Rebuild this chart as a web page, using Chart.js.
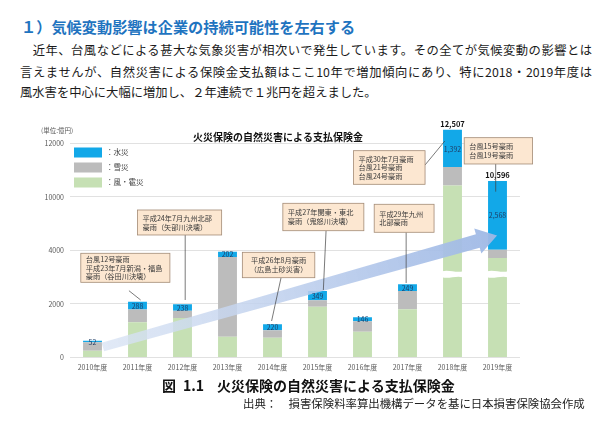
<!DOCTYPE html>
<html lang="ja">
<head>
<meta charset="utf-8">
<title>火災保険の自然災害による支払保険金</title>
<script src="https://cdn.jsdelivr.net/npm/chart.js@4.4.1/dist/chart.umd.min.js"></script>
<style>
  html, body { margin: 0; padding: 0; background: #fff; }
  body {
    width: 602px; height: 431px; position: relative; overflow: hidden;
    font-family: 'Noto Sans CJK JP', 'Noto Sans', sans-serif; color: #1a1a1a;
  }
  .abs { position: absolute; white-space: nowrap; }
  #heading { left: 21px; top: 15px; font-size: 15.2px; line-height: 22px; font-weight: bold; color: #1f74c0; }
  .para { left: 20px; width: 572px; font-size: 12.3px; line-height: 20px; }
  .just { text-align: justify; text-align-last: justify; }
  #chartBox { left: 30px; top: 110px; width: 520px; height: 266px; }
  #caption { left: 162px; top: 375px; font-size: 14px; line-height: 20px; font-weight: bold; color: #111; }
  #source { left: 243px; top: 394px; font-size: 11.4px; line-height: 18px; color: #222; }
</style>
</head>
<body>
<div id="heading" class="abs">１）気候変動影響は企業の持続可能性を左右する</div>
<div class="abs para just" style="top:40px">　近年、台風などによる甚大な気象災害が相次いで発生しています。その全てが気候変動の影響とは</div>
<div class="abs para just" style="top:61.5px">言えませんが、自然災害による保険金支払額はここ10年で増加傾向にあり、特に2018・2019年度は</div>
<div class="abs para" style="top:81.5px">風水害を中心に大幅に増加し、２年連続で１兆円を超えました。</div>

<div id="chartBox" class="abs"><canvas id="chart"></canvas></div>

<div id="caption" class="abs"><span>図</span><span style="margin-left:7px">1.1</span><span style="margin-left:13px">火災保険の自然災害による支払保険金</span></div>
<div id="source" class="abs">出典：　損害保険料率算出機構データを基に日本損害保険協会作成</div>

<script>
// 単位: 億円
const YEARS = ['2010年度', '2011年度', '2012年度', '2013年度', '2014年度',
               '2015年度', '2016年度', '2017年度', '2018年度', '2019年度'];
const WIND  = [250, 1316, 1477, 778, 740, 1899, 964, 1802, 10431, 7714];   // 風・雹災
const SNOW  = [320, 482, 273, 2976, 280, 240, 393, 684, 684, 314];         // 雪災
const FLOOD = [52, 288, 238, 202, 220, 349, 146, 249, 1392, 2568];         // 水災
const SERIES_NAMES = ['：風・雹災', '：雪災', '：水災'];
const Y_TICKS = [0, 2000, 4000, 10000, 12000];

// the axis jumps from 4000 straight to 10000
const AXIS_GAP = 4000;
const toShown = v => (v > 4000 ? v - AXIS_GAP : v);

const TOTALS = YEARS.map((_, i) => WIND[i] + SNOW[i] + FLOOD[i]);
const BROKEN = TOTALS.map(t => t > 10000);
const windShown = WIND.map((v, i) => (BROKEN[i] ? v - AXIS_GAP : v));

const COLORS = { wind: '#c6e0b4', snow: '#bcbcbc', flood: '#12a8e8' };

// callouts: x in category index, y in shown-axis units
const NOTES = [
  { box: [-0.26, 1.72, 3894, 2810], align: 'left',
    lines: ['台風12号豪雨', '平成23年7月新潟・福島', '豪雨（谷田川決壊）'],
    leader: [[0.81, 2496], [1.07, 2149]] },
  { box: [1.0, 2.87, 5512, 4578], align: 'left',
    lines: ['平成24年7月九州北部', '豪雨（矢部川決壊）'],
    leader: [[2.06, 4578], [2.06, 2149]] },
  { box: [3.33, 4.94, 3931, 2982], align: 'center',
    lines: ['平成26年8月豪雨', '（広島土砂災害）'],
    leader: [[4.19, 2982], [3.98, 1364]] },
  { box: [4.23, 6.03, 5762, 4738], align: 'left',
    lines: ['平成27年関東・東北', '豪雨（鬼怒川決壊）'],
    leader: [[5.19, 4738], [5.13, 2522]] },
  { box: [6.26, 7.59, 5725, 4679], align: 'left',
    lines: ['平成29年九州', '北部豪雨'],
    leader: [[6.97, 4679], [6.97, 2784]] },
  { box: [5.8, 7.39, 7728, 6472], align: 'left',
    lines: ['平成30年7月豪雨', '台風21号豪雨', '台風24号豪雨'],
    leader: [[7.39, 7194], [7.83, 8091]] },
  { box: [8.26, 9.78, 8214, 7231], align: 'left',
    lines: ['台風15号豪雨', '台風19号豪雨'],
    leader: [[8.96, 7231], [8.96, 6196]] }
];
const ARROW = { from: [0.23, 392], to: [8.99, 4555] };
const BREAK_MARK = 3110;

Chart.defaults.font.family = "'Noto Sans CJK JP', 'Noto Sans', sans-serif";

function drawBreaks(ctx, chart, py) {
  const meta = chart.getDatasetMeta(0);
  const yc = py(BREAK_MARK);
  ctx.save();
  ctx.fillStyle = '#fff';
  BROKEN.forEach((b, i) => {
    if (!b) return;
    const el = meta.data[i];
    const l = el.x - el.width / 2 - 1, r = el.x + el.width / 2 + 1, w = r - l;
    ctx.beginPath();
    ctx.moveTo(l, yc - 3);
    ctx.bezierCurveTo(l + w / 3, yc - 5, l + 2 * w / 3, yc - 1, r, yc - 3);
    ctx.lineTo(r, yc + 3);
    ctx.bezierCurveTo(l + 2 * w / 3, yc + 1, l + w / 3, yc + 5, l, yc + 3);
    ctx.closePath();
    ctx.fill();
  });
  ctx.restore();
}

function drawArrow(ctx, px, py) {
  const x0 = px(ARROW.from[0]), y0 = py(ARROW.from[1]);
  const x1 = px(ARROW.to[0]), y1 = py(ARROW.to[1]);
  const len = Math.hypot(x1 - x0, y1 - y0);
  const ux = (x1 - x0) / len, uy = (y1 - y0) / len;
  const nx = -uy, ny = ux;
  const head = 20, hw = 13, w0 = 4.5, w1 = 7;
  const bx = x1 - ux * head, by = y1 - uy * head;
  const g = ctx.createLinearGradient(x0, y0, x1, y1);
  g.addColorStop(0, 'rgba(218,228,244,0.8)');
  g.addColorStop(1, 'rgba(158,184,229,0.95)');
  ctx.save();
  ctx.beginPath();
  ctx.moveTo(x0 + nx * w0, y0 + ny * w0);
  ctx.lineTo(bx + nx * w1, by + ny * w1);
  ctx.lineTo(bx + nx * hw, by + ny * hw);
  ctx.lineTo(x1, y1);
  ctx.lineTo(bx - nx * hw, by - ny * hw);
  ctx.lineTo(bx - nx * w1, by - ny * w1);
  ctx.lineTo(x0 - nx * w0, y0 - ny * w0);
  ctx.closePath();
  ctx.fillStyle = g;
  ctx.fill();
  ctx.restore();
}

function drawValueLabels(ctx, chart) {
  const meta = chart.getDatasetMeta(2);
  ctx.save();
  ctx.textAlign = 'center';
  ctx.textBaseline = 'middle';
  meta.data.forEach((el, i) => {
    ctx.font = '7px ' + Chart.defaults.font.family;
    ctx.fillStyle = '#1f3d66';
    ctx.fillText(FLOOD[i].toLocaleString('en-US'), el.x, (el.y + el.base) / 2 + 0.5);
    if (BROKEN[i]) {
      ctx.font = 'bold 7.5px ' + Chart.defaults.font.family;
      ctx.fillStyle = '#111';
      ctx.fillText(TOTALS[i].toLocaleString('en-US'), el.x, el.y - 6);
    }
  });
  ctx.restore();
}

function drawNotes(ctx, px, py) {
  ctx.save();
  NOTES.forEach(n => {
    ctx.strokeStyle = '#404040';
    ctx.lineWidth = 0.7;
    ctx.beginPath();
    ctx.moveTo(px(n.leader[0][0]), py(n.leader[0][1]));
    ctx.lineTo(px(n.leader[1][0]), py(n.leader[1][1]));
    ctx.stroke();

    const l = px(n.box[0]), r = px(n.box[1]), t = py(n.box[2]), b = py(n.box[3]);
    ctx.fillStyle = '#fce7d1';
    ctx.fillRect(l, t, r - l, b - t);
    ctx.strokeStyle = '#a38b76';
    ctx.lineWidth = 0.8;
    ctx.strokeRect(l, t, r - l, b - t);

    ctx.fillStyle = '#3a3a3a';
    ctx.font = '7.2px ' + Chart.defaults.font.family;
    ctx.textBaseline = 'middle';
    ctx.textAlign = n.align;
    const step = 8.6;
    const mid = (t + b) / 2;
    const tx = n.align === 'center' ? (l + r) / 2 : l + 5;
    n.lines.forEach((line, k) => {
      ctx.fillText(line, tx, mid + (k - (n.lines.length - 1) / 2) * step);
    });
  });
  ctx.restore();
}

function drawLegendAndTitle(ctx, chart) {
  const area = chart.chartArea;
  const items = [
    [COLORS.flood, SERIES_NAMES[2]],
    [COLORS.snow, SERIES_NAMES[1]],
    [COLORS.wind, SERIES_NAMES[0]]
  ];
  ctx.save();
  ctx.textBaseline = 'middle';
  ctx.textAlign = 'left';
  items.forEach(([color, name], k) => {
    const y = area.top + 25.5 + k * 15;
    ctx.fillStyle = color;
    ctx.fillRect(area.left + 4, y, 28, 10);
    ctx.fillStyle = '#404040';
    ctx.font = '7.5px ' + Chart.defaults.font.family;
    ctx.fillText(name, area.left + 36, y + 5);
  });

  ctx.fillStyle = '#595959';
  ctx.font = '6.5px ' + Chart.defaults.font.family;
  ctx.fillText('(単位:億円)', 11, area.top + 9);

  ctx.fillStyle = '#111';
  ctx.font = 'bold 10px ' + Chart.defaults.font.family;
  ctx.textAlign = 'center';
  ctx.fillText('火災保険の自然災害による支払保険金', 248, area.top + 15);
  ctx.restore();
}

const decorPlugin = {
  id: 'decor',
  afterDatasetsDraw(chart) {
    const ctx = chart.ctx;
    const px = v => chart.scales.x.getPixelForValue(v);
    const py = v => chart.scales.y.getPixelForValue(v);
    drawBreaks(ctx, chart, py);
    drawArrow(ctx, px, py);
    drawValueLabels(ctx, chart);
    drawNotes(ctx, px, py);
    drawLegendAndTitle(ctx, chart);
  }
};

new Chart(document.getElementById('chart'), {
  type: 'bar',
  data: {
    labels: YEARS,
    datasets: [
      { label: SERIES_NAMES[0], data: windShown, backgroundColor: COLORS.wind },
      { label: SERIES_NAMES[1], data: SNOW, backgroundColor: COLORS.snow },
      { label: SERIES_NAMES[2], data: FLOOD, backgroundColor: COLORS.flood }
    ]
  },
  options: {
    responsive: true,
    maintainAspectRatio: false,
    animation: false,
    layout: { padding: { top: 12, right: 30, bottom: 0, left: 0 } },
    datasets: { bar: { barPercentage: 0.42, categoryPercentage: 1, borderWidth: 0 } },
    plugins: {
      legend: { display: false },
      tooltip: { enabled: false }
    },
    scales: {
      x: {
        stacked: true,
        grid: { display: false, drawTicks: false },
        border: { display: false },
        ticks: { font: { size: 7 }, color: '#595959', padding: 6, maxRotation: 0 },
        afterFit: scale => { scale.height = 18.5; }
      },
      y: {
        stacked: true,
        min: 0,
        max: 8800,
        grid: { color: '#d9d9d9', lineWidth: 0.8, drawTicks: false },
        border: { display: false },
        afterBuildTicks: scale => { scale.ticks = Y_TICKS.map(v => ({ value: toShown(v) })); },
        ticks: {
          font: { size: 7 },
          color: '#595959',
          padding: 6,
          callback: (value, index) => String(Y_TICKS[index])
        },
        afterFit: scale => { scale.width = 40; }
      }
    }
  },
  plugins: [decorPlugin]
});
</script>
</body>
</html>
